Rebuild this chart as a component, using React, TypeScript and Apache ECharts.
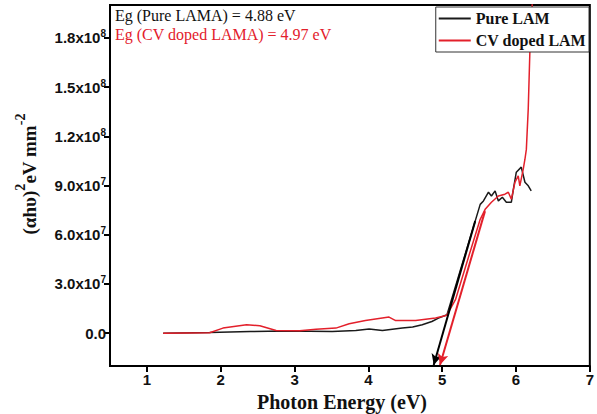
import React, { useEffect, useRef } from "react";
import * as echarts from "echarts";

const pureX = [1.22, 1.85, 2.4, 2.84, 3.2, 3.51, 3.83, 4.01, 4.19, 4.46, 4.6, 4.73, 4.86, 4.95, 5.065, 5.25, 5.447, 5.515, 5.559, 5.627, 5.667, 5.717, 5.761, 5.815, 5.869, 5.937, 5.964, 6.004, 6.071, 6.121, 6.166, 6.206];
const pureY = [0, 0.4e6, 1.0e6, 1.4e6, 1.2e6, 1.0e6, 1.6e6, 2.6e6, 1.6e6, 3.1e6, 3.8e6, 5.1e6, 7.1e6, 9.2e6, 1.12e7, 3.9e7, 6.83e7, 7.85e7, 8.06e7, 8.59e7, 8.36e7, 8.67e7, 8.06e7, 8.28e7, 7.98e7, 7.98e7, 8.77e7, 9.81e7, 1.012e8, 9.2e7, 8.98e7, 8.67e7];

const cvX = [1.22, 1.85, 2.03, 2.35, 2.53, 2.75, 3.07, 3.29, 3.56, 3.74, 3.96, 4.28, 4.37, 4.64, 4.91, 5.04, 5.065, 5.18, 5.36, 5.515, 5.582, 5.667, 5.761, 5.85, 5.896, 5.937, 5.986, 6.03, 6.052, 6.098, 6.121, 6.14, 6.166, 6.19, 6.22];
const cvY = [0, 0.3e6, 3.1e6, 5.1e6, 4.5e6, 1.6e6, 1.5e6, 2.4e6, 3.1e6, 5.7e6, 7.7e6, 9.8e6, 7.7e6, 7.7e6, 9.2e6, 1.06e7, 1.12e7, 2.04e7, 4.69e7, 6.94e7, 7.55e7, 7.98e7, 8.36e7, 8.47e7, 8.59e7, 8.16e7, 9.2e7, 9.59e7, 8.98e7, 1.0e8, 1.06e8, 1.12e8, 1.37e8, 1.75e8, 2.01e8];

// tangent (band-gap) arrows: [start, end]
const pureArrow = [[5.447, 6.83e7], [4.885, -1.94e7]];
const cvArrow = [[5.58, 7.44e7], [4.97, -1.94e7]];

const xTicks = [1, 2, 3, 4, 5, 6, 7];
const yTicks = [0, 3e7, 6e7, 9e7, 1.2e8, 1.5e8, 1.8e8];

const seriesNames = ["Pure LAM", "CV doped LAM"];
const annotations = ["Eg (Pure LAMA) = 4.88 eV", "Eg (CV doped LAMA) = 4.97 eV"];

const BLACK = "#1a1a1a";
const RED = "#e3202b";

function yFmt(v: number): string {
  if (Math.abs(v) < 1) return "{b|0.0}";
  const e = Math.floor(Math.log10(v) + 1e-9);
  const m = v / Math.pow(10, e);
  return `{b|${m.toFixed(1)}x10}{s|${e}}`;
}

export default function App() {
  const ref = useRef<HTMLDivElement>(null);
  useEffect(() => {
    if (!ref.current) return;
    const chart = echarts.init(ref.current, undefined, { renderer: "svg" });
    const mkData = (xs: number[], ys: number[]) => xs.map((x, i) => [x, ys[i]]);
    const arrowLine = (a: number[][], color: string) => ({
      silent: true,
      symbol: ["none", "arrow"],
      symbolSize: [8, 11],
      label: { show: false },
      lineStyle: { color, width: 2, type: "solid" },
      data: [[{ coord: a[0] }, { coord: a[1] }]],
    });
    chart.setOption({
      animation: false,
      backgroundColor: "#fff",
      grid: {
        left: 110,
        right: 5,
        top: 5,
        bottom: 48,
        show: true,
        borderColor: "#000",
        borderWidth: 2,
        backgroundColor: "transparent",
      },
      xAxis: {
        type: "value",
        min: 0.5,
        max: 7,
        axisLine: { show: true, onZero: false, lineStyle: { color: "#000", width: 2 } },
        axisTick: { show: true, length: 6, lineStyle: { color: "#000", width: 2 }, customValues: xTicks },
        axisLabel: {
          customValues: xTicks,
          margin: 6,
          color: "#111",
          fontFamily: "Liberation Sans",
          fontWeight: "bold",
          fontSize: 15,
          showMaxLabel: true,
        },
        splitLine: { show: false },
      },
      yAxis: {
        type: "value",
        min: -2e7,
        max: 2e8,
        axisLine: { show: true, onZero: false, lineStyle: { color: "#000", width: 2 } },
        axisTick: { show: true, length: 6, lineStyle: { color: "#000", width: 2 }, customValues: yTicks },
        axisLabel: {
          customValues: yTicks,
          margin: 4,
          formatter: yFmt,
          rich: {
            b: { fontFamily: "Liberation Sans", fontWeight: "bold", fontSize: 15, color: "#111", lineHeight: 18 },
            s: { fontFamily: "Liberation Sans", fontWeight: "bold", fontSize: 10, color: "#111", lineHeight: 8, verticalAlign: "top" },
          },
        },
        splitLine: { show: false },
      },
      legend: {
        orient: "vertical",
        right: 8,
        top: 7,
        icon: "rect",
        itemWidth: 32,
        itemHeight: 2,
        itemGap: 5,
        padding: [3, 3, 3, 3],
        backgroundColor: "#fff",
        borderColor: "#333",
        borderWidth: 1,
        borderRadius: 0,
        z: 10,
        textStyle: { fontFamily: "Liberation Serif", fontWeight: "bold", fontSize: 16, color: "#111", lineHeight: 17 },
        data: seriesNames,
      },
      series: [
        {
          name: seriesNames[0],
          type: "line",
          symbol: "none",
          data: mkData(pureX, pureY),
          lineStyle: { color: BLACK, width: 1.5 },
          itemStyle: { color: BLACK },
          z: 3,
          markLine: arrowLine(pureArrow, "#000"),
        },
        {
          name: seriesNames[1],
          type: "line",
          symbol: "none",
          data: mkData(cvX, cvY),
          lineStyle: { color: RED, width: 1.5 },
          itemStyle: { color: RED },
          z: 4,
          markLine: arrowLine(cvArrow, RED),
        },
      ],
      graphic: [
        {
          type: "text",
          x: 115,
          y: 15.5,
          z: 20,
          style: { text: annotations[0], fontFamily: "Liberation Serif", fontSize: 16, fill: "#111", verticalAlign: "middle", align: "left" },
        },
        {
          type: "text",
          x: 115,
          y: 34,
          z: 20,
          style: { text: annotations[1], fontFamily: "Liberation Serif", fontSize: 16, fill: RED, verticalAlign: "middle", align: "left" },
        },
        {
          type: "text",
          x: 342,
          y: 402,
          style: { text: "Photon Energy (eV)", fontFamily: "Liberation Serif", fontWeight: "bold", fontSize: 20, fill: "#111", align: "center", verticalAlign: "middle" },
        },
        {
          type: "text",
          x: 26,
          y: 174,
          rotation: Math.PI / 2,
          style: {
            text: "{a|(αhυ)}{s|2}{a|eV mm}{s|-2}",
            align: "center",
            verticalAlign: "middle",
            rich: {
              a: { fontFamily: "Liberation Serif", fontWeight: "bold", fontSize: 19, fill: "#111", lineHeight: 26, verticalAlign: "bottom" },
              s: { fontFamily: "Liberation Serif", fontWeight: "bold", fontSize: 14, fill: "#111", lineHeight: 26, verticalAlign: "top" },
            },
          },
        },
      ],
    });
    return () => chart.dispose();
  }, []);
  return <div ref={ref} style={{ width: 597, height: 414, position: "absolute", left: 0, top: 0 }} />;
}
